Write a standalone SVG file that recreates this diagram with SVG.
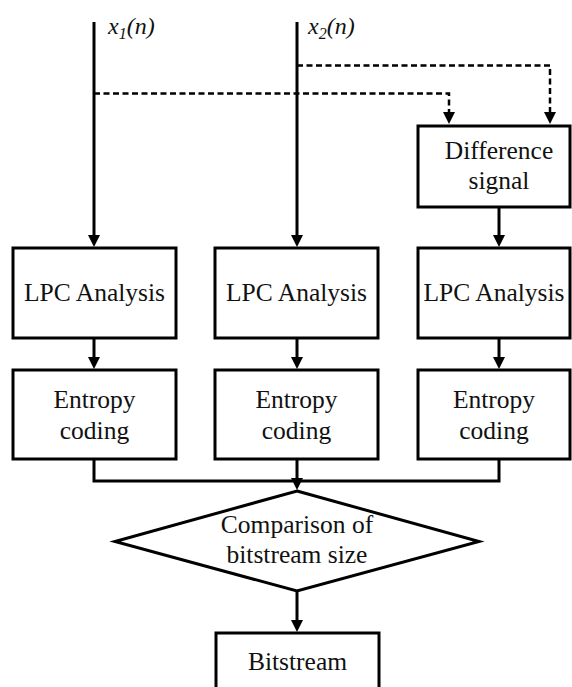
<svg xmlns="http://www.w3.org/2000/svg" width="572" height="687" viewBox="0 0 572 687">
  <style>
    .box { fill: #fff; stroke: #000; stroke-width: 3; }
    .wire { fill: none; stroke: #000; stroke-width: 3; }
    .dash { fill: none; stroke: #000; stroke-width: 2.5; stroke-dasharray: 6 3.5; }
    .lbl { font-family: "Liberation Serif", "Times New Roman", serif; font-size: 25.5px; fill: #111; text-anchor: middle; }
    .sig { font-family: "Liberation Serif", "Times New Roman", serif; font-size: 24px; font-style: italic; fill: #111; }
  </style>
  <defs>
    <marker id="arrow" viewBox="0 0 12 12" refX="6" refY="6" markerWidth="12" markerHeight="12" markerUnits="userSpaceOnUse" orient="auto">
      <path d="M0,0 L12,6 L0,12 z" fill="#000"/>
    </marker>
  </defs>

  <!-- connectors -->
  <g id="connectors">
    <!-- input signals -->
    <path class="wire" d="M94,22 V241" marker-end="url(#arrow)"/>
    <path class="wire" d="M297,22 V241" marker-end="url(#arrow)"/>
    <!-- taps into the difference block -->
    <path class="dash" d="M94,93.5 H449 V118" marker-end="url(#arrow)"/>
    <path class="dash" d="M297,65.5 H550 V118" marker-end="url(#arrow)"/>
    <!-- difference -> LPC -->
    <path class="wire" d="M499,207 V241" marker-end="url(#arrow)"/>
    <!-- LPC -> entropy coding -->
    <path class="wire" d="M94,338 V363" marker-end="url(#arrow)"/>
    <path class="wire" d="M297,338 V363" marker-end="url(#arrow)"/>
    <path class="wire" d="M499,338 V363" marker-end="url(#arrow)"/>
    <!-- merge into comparison -->
    <path class="wire" d="M94,459 V481 H499 V459"/>
    <path class="wire" d="M297,459 V484" marker-end="url(#arrow)"/>
    <!-- comparison -> bitstream -->
    <path class="wire" d="M297,591 V626" marker-end="url(#arrow)"/>
  </g>

  <!-- signal labels -->
  <text class="sig" x="108" y="34">x<tspan font-size="16" dy="5">1</tspan><tspan dy="-5">(n)</tspan></text>
  <text class="sig" x="308" y="34">x<tspan font-size="16" dy="5">2</tspan><tspan dy="-5">(n)</tspan></text>

  <g id="difference">
    <rect class="box" x="418" y="126" width="152" height="81"/>
    <text class="lbl" x="499" y="159">Difference</text>
    <text class="lbl" x="499" y="189">signal</text>
  </g>

  <g id="lpc1">
    <rect class="box" x="13" y="248" width="163" height="90"/>
    <text class="lbl" x="94.5" y="301">LPC Analysis</text>
  </g>
  <g id="lpc2">
    <rect class="box" x="215" y="248" width="163" height="90"/>
    <text class="lbl" x="296.5" y="301">LPC Analysis</text>
  </g>
  <g id="lpc3">
    <rect class="box" x="418" y="248" width="152" height="90"/>
    <text class="lbl" x="494" y="301">LPC Analysis</text>
  </g>

  <g id="entropy1">
    <rect class="box" x="13" y="370" width="163" height="89"/>
    <text class="lbl" x="94.5" y="408">Entropy</text>
    <text class="lbl" x="94.5" y="439">coding</text>
  </g>
  <g id="entropy2">
    <rect class="box" x="215" y="370" width="163" height="89"/>
    <text class="lbl" x="296.5" y="408">Entropy</text>
    <text class="lbl" x="296.5" y="439">coding</text>
  </g>
  <g id="entropy3">
    <rect class="box" x="418" y="370" width="152" height="89"/>
    <text class="lbl" x="494" y="408">Entropy</text>
    <text class="lbl" x="494" y="439">coding</text>
  </g>

  <g id="comparison">
    <polygon class="box" points="297,491 479,541.5 297,591 115,541.5"/>
    <text class="lbl" x="297" y="533">Comparison of</text>
    <text class="lbl" x="297" y="563">bitstream size</text>
  </g>

  <g id="bitstream">
    <rect class="box" x="216" y="633" width="163" height="70"/>
    <text class="lbl" x="297.5" y="670">Bitstream</text>
  </g>
</svg>
